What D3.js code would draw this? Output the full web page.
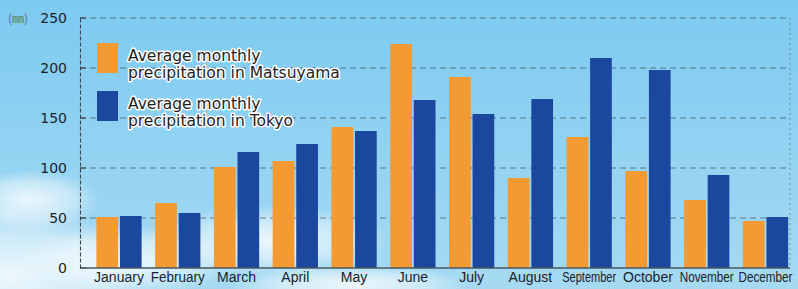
<!DOCTYPE html>
<html>
<head>
<meta charset="utf-8">
<script src="https://cdn.jsdelivr.net/npm/d3@7"></script>
<style>
  body { margin: 0; background: #8fcbee; }
  svg { display: block; }
</style>
</head>
<body>
<svg width="798" height="289"></svg>
<script>
// data (mm)
var months = ["January", "February", "March", "April", "May", "June", "July",
	"August", "September", "October", "November", "December"];
var matsuyama = [51, 65, 101, 107, 141, 224, 191, 90, 131, 97, 68, 47];
var tokyo = [52, 55, 116, 124, 137, 168, 154, 169, 210, 198, 93, 51];
var yTicks = [0, 50, 100, 150, 200, 250];
var seriesNames = ["Average monthly\nprecipitation in Matsuyama", "Average monthly\nprecipitation in Tokyo"];
var colors = ["#f49a33", "#1b479e"];

var svg = d3.select("svg"),
	width = +svg.attr("width"),
	height = +svg.attr("height");

// sky background
var defs = svg.append("defs");
var sky = defs.append("linearGradient").attr("id", "sky")
	.attr("x1", 0).attr("y1", 0).attr("x2", 0).attr("y2", 1);
sky.append("stop").attr("offset", "0%").attr("stop-color", "#7ccaf1");
sky.append("stop").attr("offset", "100%").attr("stop-color", "#a6daf2");
var cloud = defs.append("radialGradient").attr("id", "cloud");
cloud.append("stop").attr("offset", "0%").attr("stop-color", "#ffffff").attr("stop-opacity", 0.8);
cloud.append("stop").attr("offset", "60%").attr("stop-color", "#ffffff").attr("stop-opacity", 0.45);
cloud.append("stop").attr("offset", "100%").attr("stop-color", "#ffffff").attr("stop-opacity", 0);

svg.append("rect").attr("width", width).attr("height", height).attr("fill", "url(#sky)");
var clouds = [[10, 275, 140, 70], [130, 260, 110, 35], [270, 240, 120, 35], [30, 200, 70, 30], [350, 285, 120, 20]];
svg.append("g").selectAll("ellipse")
	.data(clouds)
	.enter().append("ellipse")
	.attr("cx", function (d) { return d[0]; })
	.attr("cy", function (d) { return d[1]; })
	.attr("rx", function (d) { return d[2]; })
	.attr("ry", function (d) { return d[3]; })
	.attr("fill", "url(#cloud)");

var plotLeft = 80, plotRight = 790, plotTop = 18, plotBottom = 268;

var y = d3.scaleLinear().domain([0, 250]).range([plotBottom, plotTop]);

var x0 = d3.scaleBand().domain(months)
	.range([89.6, 794.9])
	.paddingInner(0.23)
	.paddingOuter(0.115);

var x1 = d3.scaleBand().domain([0, 1])
	.range([0, x0.bandwidth()])
	.paddingInner(0.08);

// gridlines
svg.append("g")
	.selectAll("line")
	.data(yTicks.filter(function (d) { return d > 0; }))
	.enter().append("line")
	.attr("x1", plotLeft).attr("x2", plotRight)
	.attr("y1", function (d) { return y(d); })
	.attr("y2", function (d) { return y(d); })
	.attr("stroke", "#40505c")
	.attr("stroke-opacity", 0.7)
	.attr("stroke-width", 1)
	.attr("stroke-dasharray", "6,4");

// right dotted border
svg.append("line")
	.attr("x1", plotRight).attr("x2", plotRight)
	.attr("y1", plotTop).attr("y2", plotBottom)
	.attr("stroke", "#4d6170").attr("stroke-opacity", 0.6)
	.attr("stroke-dasharray", "2,3");

// bars
var groups = svg.append("g")
	.selectAll("g")
	.data(months)
	.enter().append("g")
	.attr("transform", function (d) { return "translate(" + x0(d) + ",0)"; });

groups.selectAll("rect")
	.data(function (d, i) { return [matsuyama[i], tokyo[i]]; })
	.enter().append("rect")
	.attr("x", function (d, j) { return x1(j); })
	.attr("width", x1.bandwidth())
	.attr("y", function (d) { return y(d); })
	.attr("height", function (d) { return y(0) - y(d); })
	.attr("fill", function (d, j) { return colors[j]; });

// axes
var yAxis = d3.axisLeft(y).tickValues(yTicks).tickSize(0).tickPadding(13);
var gy = svg.append("g")
	.attr("transform", "translate(" + plotLeft + ",0)")
	.call(yAxis);
gy.select(".domain").attr("stroke", "#3c4650").attr("stroke-width", 1.1).attr("stroke-dasharray", "4,2");
gy.selectAll("text")
	.attr("font-family", "DejaVu Sans, sans-serif")
	.attr("font-size", 14)
	.attr("fill", "#1e2327");

// small inward tick marks
svg.append("g")
	.selectAll("line")
	.data(yTicks)
	.enter().append("line")
	.attr("x1", plotLeft).attr("x2", plotLeft + 6)
	.attr("y1", function (d) { return y(d); })
	.attr("y2", function (d) { return y(d); })
	.attr("stroke", "#333");

svg.append("line")
	.attr("x1", plotLeft).attr("x2", plotRight)
	.attr("y1", plotBottom).attr("y2", plotBottom)
	.attr("stroke", "#4a5660").attr("stroke-width", 1.3);

var xAxis = d3.axisBottom(x0).tickSize(0).tickPadding(4);
var gx = svg.append("g")
	.attr("transform", "translate(0," + plotBottom + ")")
	.call(xAxis);
gx.select(".domain").remove();
gx.selectAll("text")
	.attr("font-family", "Liberation Sans, Arial, sans-serif")
	.attr("font-size", 14)
	.attr("fill", "#1a232b")
	.each(function (d) {
		var w = this.getComputedTextLength();
		if (w > 54) {
			d3.select(this).attr("textLength", 54).attr("lengthAdjust", "spacingAndGlyphs");
		}
	});

// unit label
svg.append("text")
	.attr("x", 8).attr("y", 23)
	.attr("font-family", "Noto Sans CJK JP, sans-serif")
	.attr("font-size", 12)
	.attr("fill", "#5d7282")
	.text("(㎜)");

// legend
var legend = svg.append("g")
	.selectAll("g")
	.data(seriesNames)
	.enter().append("g")
	.attr("transform", function (d, i) { return "translate(97," + (43 + i * 48) + ")"; });

legend.append("rect")
	.attr("width", 21).attr("height", 30)
	.attr("fill", function (d, i) { return colors[i]; });

legend.append("text")
	.attr("x", 31).attr("y", 18)
	.attr("font-family", "DejaVu Sans, sans-serif")
	.attr("font-size", 15.5)
	.attr("fill", "#1e1e1e")
	.attr("stroke", "#ffffff")
	.attr("stroke-width", 3)
	.attr("stroke-linejoin", "round")
	.attr("paint-order", "stroke")
	.selectAll("tspan")
	.data(function (d) { return d.split("\n"); })
	.enter().append("tspan")
	.attr("x", 31)
	.attr("dy", function (d, i) { return i ? 17 : 0; })
	.text(function (d) { return d; });
</script>
</body>
</html>
